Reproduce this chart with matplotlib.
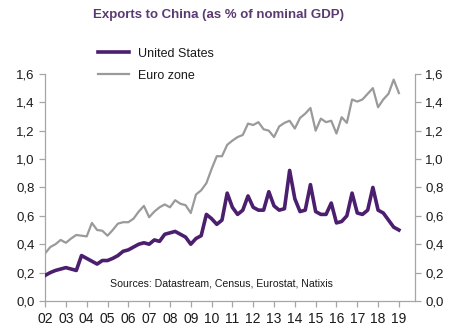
import numpy as np
import matplotlib
matplotlib.use('Agg')
import matplotlib.pyplot as plt
from matplotlib.ticker import FuncFormatter

plt.rcParams['font.family'] = ['Liberation Sans', 'DejaVu Sans']

# quarterly data, 2002Q1 .. 2019Q1
start_year = 2002
us = [0.18, 0.20, 0.215, 0.225,
      0.235, 0.225, 0.215, 0.32,
      0.30, 0.28, 0.26, 0.285,
      0.285, 0.30, 0.32, 0.35,
      0.36, 0.38, 0.40, 0.41,
      0.40, 0.43, 0.42, 0.47,
      0.48, 0.49, 0.47, 0.45,
      0.40, 0.44, 0.46, 0.61,
      0.58, 0.54, 0.57, 0.76,
      0.66, 0.61, 0.64, 0.74,
      0.66, 0.64, 0.64, 0.77,
      0.67, 0.64, 0.65, 0.92,
      0.72, 0.63, 0.64, 0.82,
      0.63, 0.61, 0.61, 0.69,
      0.55, 0.56, 0.60, 0.76,
      0.62, 0.61, 0.64, 0.80,
      0.64, 0.62, 0.57, 0.52,
      0.50]
euro = [0.335, 0.38, 0.40, 0.43,
        0.41, 0.44, 0.465, 0.46,
        0.455, 0.55, 0.50, 0.495,
        0.46, 0.50, 0.545, 0.555,
        0.555, 0.58, 0.63, 0.67,
        0.59, 0.63, 0.66, 0.68,
        0.66, 0.71, 0.685, 0.675,
        0.62, 0.75, 0.78, 0.83,
        0.93, 1.02, 1.02, 1.10,
        1.13, 1.155, 1.17, 1.25,
        1.24, 1.26, 1.21, 1.20,
        1.155, 1.23, 1.255, 1.27,
        1.215, 1.29, 1.32, 1.36,
        1.20, 1.285, 1.26, 1.27,
        1.18, 1.295, 1.255, 1.42,
        1.405, 1.42, 1.46, 1.50,
        1.365, 1.42, 1.46, 1.56,
        1.465]
years = list(range(2002, 2020))
year_labels = ['%02d' % (y % 100) for y in years]
yticks = [0.0, 0.2, 0.4, 0.6, 0.8, 1.0, 1.2, 1.4, 1.6]

x = start_year + np.arange(len(us)) * 0.25

purple = '#4b1e6e'
grey = '#9a9a9a'
spine_col = '#a6a6a6'
text_col = '#1a1a1a'

fig = plt.figure(figsize=(4.6, 3.3), dpi=100)
ax = fig.add_axes([0.098, 0.088, 0.804, 0.688])

ax.plot(x, us, color=purple, lw=2.6, label='United States', zorder=3)
ax.plot(x, euro, color=grey, lw=1.6, label='Euro zone', zorder=2)

ax.set_xlim(2002, 2019.77)
ax.set_ylim(0, 1.6)
ax.set_xticks(years)
ax.set_xticklabels(year_labels)
ax.set_yticks(yticks)
fmt = FuncFormatter(lambda v, p: ('%.1f' % v).replace('.', ','))
ax.yaxis.set_major_formatter(fmt)

ax2 = ax.twinx()
ax2.set_ylim(0, 1.6)
ax2.set_yticks(yticks)
ax2.yaxis.set_major_formatter(fmt)

for a in (ax, ax2):
    a.spines['top'].set_visible(False)
    for s in ('left', 'right', 'bottom'):
        a.spines[s].set_color(spine_col)
        a.spines[s].set_linewidth(0.9)
    a.tick_params(colors=spine_col, labelcolor=text_col, labelsize=9.5,
                  length=4, width=0.9)
ax.spines['right'].set_visible(False)
ax2.spines['left'].set_visible(False)
ax2.spines['bottom'].set_visible(False)
ax.tick_params(axis='x', labelsize=10, pad=4)

fig.text(0.475, 0.955, 'Exports to China (as % of nominal GDP)',
         ha='center', va='center', fontsize=9.5, fontweight='bold',
         color='#5b3a72')

leg = ax.legend(loc='upper left', bbox_to_anchor=(0.113, 1.165), frameon=False,
                fontsize=9, handlelength=2.5, handletextpad=0.7,
                labelspacing=0.8)
for t in leg.get_texts():
    t.set_color(text_col)

ax.text(0.476, 0.065, 'Sources: Datastream, Census, Eurostat, Natixis',
        transform=ax.transAxes, fontsize=7.6, color=text_col, ha='center')

fig.savefig('out.png', dpi=100)
